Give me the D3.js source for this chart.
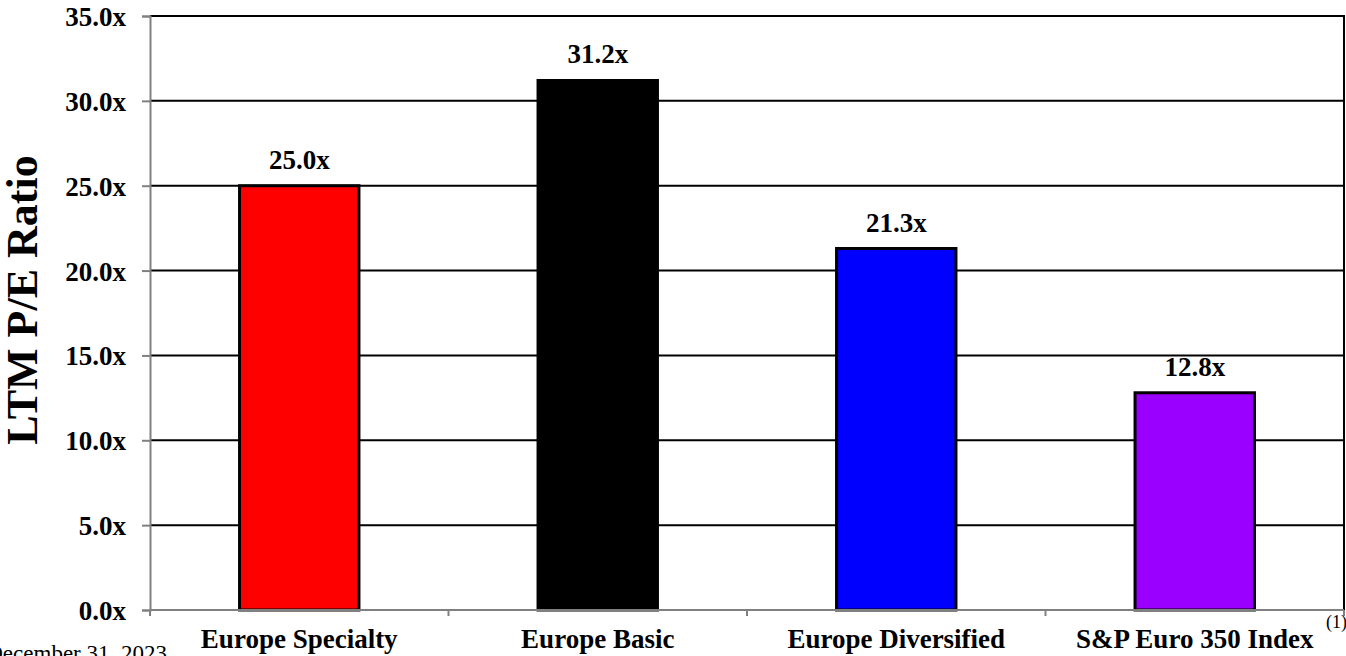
<!DOCTYPE html>
<html>
<head>
<meta charset="utf-8">
<script src="https://cdn.jsdelivr.net/npm/d3@7"></script>
<style>
  body{margin:0;background:#fff;overflow:hidden;}
  text{font-family:"Liberation Serif","Times New Roman",serif;}
</style>
</head>
<body>
<svg id="chart" width="1346" height="656"></svg>
<script>
var categories = ["Europe Specialty","Europe Basic","Europe Diversified","S&P Euro 350 Index"];
var peRatios = [25.0, 31.2, 21.3, 12.8];
var barColors = ["#ff0000","#000000","#0000ff","#9900ff"];
var yTicks = [0,5,10,15,20,25,30,35];

var svg = d3.select("#chart");
var m = {left:150,right:1344,top:16,bottom:610};

var x = d3.scaleBand().domain(categories).range([m.left,m.right]).paddingInner(0.6).paddingOuter(0.3);
var y = d3.scaleLinear().domain([0,35]).range([m.bottom,m.top]);

// gridlines
svg.selectAll(".grid").data(yTicks.filter(function(d){return d>0})).enter().append("line")
  .attr("x1",m.left).attr("x2",m.right)
  .attr("y1",function(d){return y(d)}).attr("y2",function(d){return y(d)})
  .attr("stroke","#000").attr("stroke-width",2);

// right border
svg.append("line").attr("x1",m.right).attr("x2",m.right).attr("y1",m.top-1).attr("y2",m.bottom)
  .attr("stroke","#000").attr("stroke-width",2);

// bars
svg.selectAll(".bar").data(peRatios).enter().append("rect")
  .attr("x",function(d,i){return x(categories[i])})
  .attr("y",function(d){return y(d)})
  .attr("width",x.bandwidth())
  .attr("height",function(d){return y(0)-y(d)})
  .attr("fill",function(d,i){return barColors[i]})
  .attr("stroke","#000").attr("stroke-width",3);

// value labels
svg.selectAll(".val").data(peRatios).enter().append("text")
  .attr("x",function(d,i){return x(categories[i])+x.bandwidth()/2})
  .attr("y",function(d){return y(d)-17})
  .attr("text-anchor","middle")
  .style("font-weight","bold").style("font-size","27px")
  .text(function(d){return d.toFixed(1)+"x"});

// y axis
var yAxis = d3.axisLeft(y).tickValues(yTicks).tickSize(8).tickFormat(function(d){return d.toFixed(1)+"x"});
var gy = svg.append("g").attr("transform","translate("+m.left+",0)").call(yAxis);
gy.select(".domain").attr("stroke","#808080").attr("stroke-width",2);
gy.selectAll(".tick line").attr("stroke","#808080").attr("stroke-width",2);
gy.selectAll(".tick text").attr("x",-24).attr("dy","0.35em")
  .style("font-family","'Liberation Serif',serif").style("font-weight","bold").style("font-size","27px").attr("fill","#000");

// x axis
var xb = d3.scaleLinear().domain([0,categories.length]).range([m.left,m.right]);
svg.append("line").attr("x1",m.left).attr("x2",m.right).attr("y1",m.bottom).attr("y2",m.bottom)
  .attr("stroke","#808080").attr("stroke-width",2);
svg.selectAll(".xtick").data(d3.range(categories.length+1)).enter().append("line")
  .attr("x1",function(d){return xb(d)}).attr("x2",function(d){return xb(d)})
  .attr("y1",m.bottom).attr("y2",m.bottom+6)
  .attr("stroke","#808080").attr("stroke-width",2);
svg.selectAll(".xlab").data(categories).enter().append("text")
  .attr("x",function(d){return x(d)+x.bandwidth()/2})
  .attr("y",648)
  .attr("text-anchor","middle")
  .style("font-weight","bold").style("font-size","27px")
  .text(function(d){return d});

// y title
svg.append("text").attr("transform","translate(37,300) rotate(-90)")
  .attr("text-anchor","middle")
  .style("font-weight","bold").style("font-size","44px")
  .text("LTM P/E Ratio");

// footnotes
svg.append("text").attr("x",167).attr("y",661).attr("text-anchor","end")
  .style("font-size","23px").text("December 31, 2023");
svg.append("text").attr("x",1326).attr("y",628)
  .style("font-size","18px").text("(1)");
</script>
</body>
</html>
